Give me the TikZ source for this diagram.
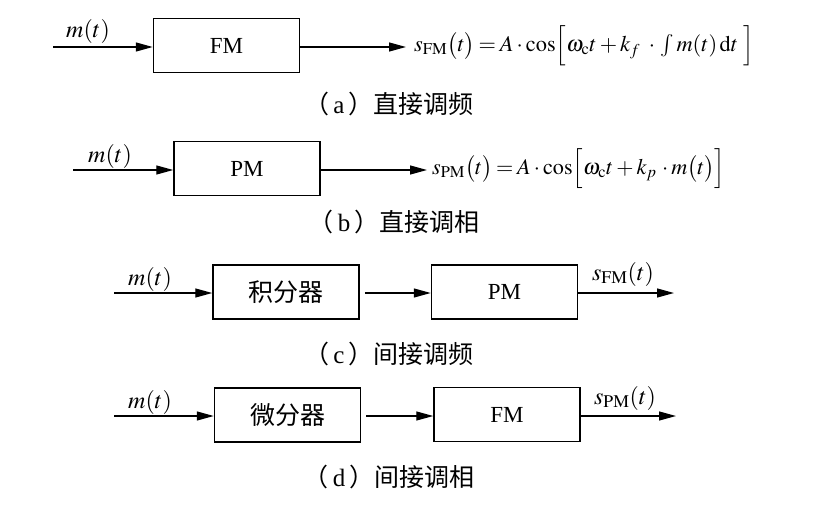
\documentclass[tikz,border=0pt]{standalone}
\usepackage{graphicx}
\usepackage{mathptmx}
\usepackage[no-math]{fontspec}
\setmainfont{Liberation Serif}
\newfontfamily\cjk{Noto Sans CJK SC}
\usetikzlibrary{arrows.meta}
\newcommand{\tighteq}{\thickmuskip=3mu plus 1mu\medmuskip=2.5mu plus 1mu}
\begin{document}
\begin{tikzpicture}[x=1pt,y=-1pt,
  blk/.style={draw, line width=1.5pt, minimum width=146pt, minimum height=54pt, inner sep=0pt, font=\fontsize{23}{27}\selectfont},
  sig/.style={line width=1.3pt, -{Triangle[length=17pt,width=9pt]}},
  lbl/.style={font=\fontsize{24}{28}\selectfont, inner sep=0pt},
  captxt/.style={font=\fontsize{25}{29}\selectfont, inner sep=0pt},
  eq/.style={font=\fontsize{22.5}{27}\selectfont\tighteq, anchor=west, inner sep=0pt}]
\useasboundingbox[fill=white] (0,0) rectangle (820,514);

% (a)
\node[blk] (fma) at (226.5,45.5) {FM};
\coordinate (ina) at (53,47);
\coordinate (outa) at (406,47);
\draw[sig] (ina) -- (fma.west |- ina);
\draw[sig] (fma.east |- outa) -- (outa);
\node[lbl] (ma) at (88,31) {$m(t)$};
\node[eq] (eqa) at (414,46) {\resizebox{340pt}{!}{$\tighteq s_{\mathrm{FM}}\bigl(t\bigr)=A\cdot\cos\Bigl[\omega_{\mathrm{c}}t+k_f\ \cdot\,\int m(t)\,\mathrm{d}t\ \Bigr]$}};
\node[captxt] (capa) at (389,104) {{\cjk （}\,a\,{\cjk ）直接调频}};

% (b)
\node[blk] (pmb) at (247,168.5) {PM};
\coordinate (inb) at (73,170);
\coordinate (outb) at (427,170);
\draw[sig] (inb) -- (pmb.west |- inb);
\draw[sig] (pmb.east |- outb) -- (outb);
\node[lbl] (mb) at (110,156) {$m(t)$};
\node[eq] (eqb) at (432,169) {\resizebox{293pt}{!}{$\tighteq s_{\mathrm{PM}}\bigl(t\bigr)=A\cdot\cos\Bigl[\omega_{\mathrm{c}}t+k_p\,\cdot m\bigl(t\bigr)\Bigr]$}};
\node[captxt] (capb) at (394,222) {{\cjk （}\,b\,{\cjk ）直接调相}};

% (c)
\node[blk] (intc) at (286,292) {\fontsize{25}{29}\selectfont\cjk 积分器};
\node[blk] (pmc) at (504.5,292) {PM};
\coordinate (inc) at (114,293);
\coordinate (outc) at (674,293);
\draw[sig] (inc) -- (intc.west |- inc);
\draw[sig] (intc.east |- inc) ++(5,0) -- (pmc.west |- inc);
\draw[sig] (pmc.east |- outc) -- (outc);
\node[lbl] (mc) at (150,279) {$m(t)$};
\node[lbl] (sc) at (623,274) {$s_{\mathrm{FM}}(t)$};
\node[captxt] (capc) at (389,354) {{\cjk （}\,c\,{\cjk ）间接调频}};

% (d)
\node[blk] (difd) at (287.5,415) {\fontsize{25}{29}\selectfont\cjk 微分器};
\node[blk] (fmd) at (507,414.5) {FM};
\coordinate (ind) at (114,416);
\coordinate (outd) at (676,416);
\draw[sig] (ind) -- (difd.west |- ind);
\draw[sig] (difd.east |- ind) ++(5,0) -- (fmd.west |- ind);
\draw[sig] (fmd.east |- outd) -- (outd);
\node[lbl] (md) at (150,402) {$m(t)$};
\node[lbl] (sd) at (625,398) {$s_{\mathrm{PM}}(t)$};
\node[captxt] (capd) at (389,477) {{\cjk （}\,d\,{\cjk ）间接调相}};
\end{tikzpicture}
\end{document}
